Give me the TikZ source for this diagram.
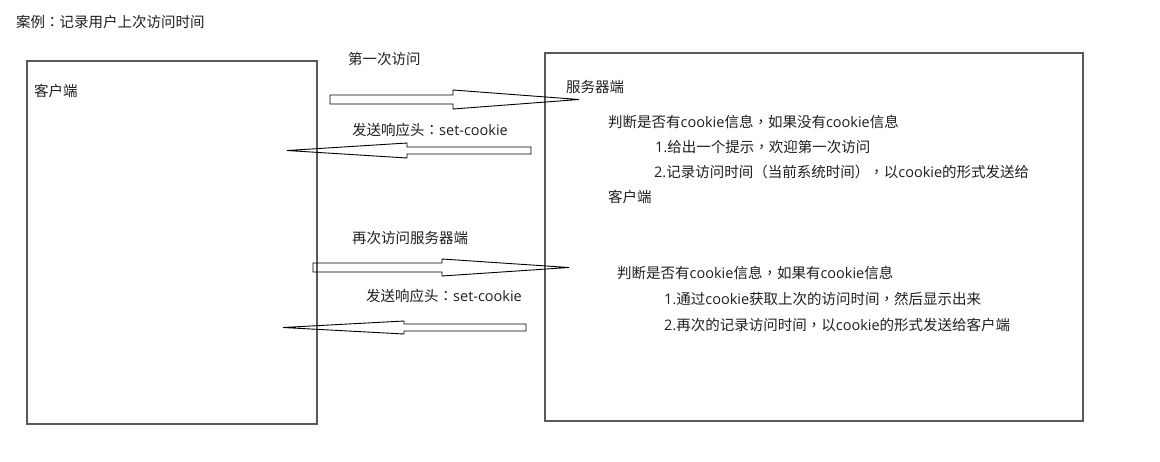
\documentclass[tikz,border=0pt]{standalone}
\usepackage{fontspec}
\setmainfont{Noto Sans CJK SC}
\newfontfamily\latf{Open Sans}
\newfontfamily\punf{Noto Sans CJK TC}
\newcommand\lt[1]{{\latf #1}}
\newcommand\pn[1]{{\punf #1}}
% block arrow: tail x, shoulder x, tip x, centre y, half body, half head
\newcommand\fatarrow[6]{%
  \draw[arrowline] (#1,#4-#5) -- (#2,#4-#5) -- (#2,#4-#6) -- (#3,#4)
    -- (#2,#4+#6) -- (#2,#4+#5) -- (#1,#4+#5) -- cycle;}
\begin{document}
\begin{tikzpicture}[x=1pt,y=-1pt,
  txt/.style={anchor=base west,inner sep=0pt,text=black!88,
    font=\fontsize{14.5}{17}\selectfont},
  panel/.style={draw=black!65,line width=1.2pt},
  arrowline/.style={draw=black,line width=0.9pt,line join=miter}]
\useasboundingbox (0,0) rectangle (1160,461);
\fill[white] (0,0) rectangle (1160,461);

% title
\node[txt] (title) at (16,27) {案例\pn{：}记录用户上次访问时间};

% client and server panels
\draw[panel] (27,61) rectangle (317,424);
\draw[panel] (545,53) rectangle (1083,421);
\node[txt] (client) at (34,96) {客户端};
\node[txt] (server) at (566,92) {服务器端};

% first request and response
\node[txt] (req1) at (348,64) {第一次访问};
\fatarrow{330}{453}{579}{99.5}{4.5}{9.5}
\node[txt] (resp1) at (352,135) {发送响应头\pn{：}\lt{set-cookie}};
\fatarrow{531}{407}{287}{150.5}{3.5}{7.5}

% second request and response
\node[txt] (req2) at (352,243) {再次访问服务器端};
\fatarrow{313}{442}{569}{267.5}{4.5}{8.5}
\node[txt] (resp2) at (366,301) {发送响应头\pn{：}\lt{set-cookie}};
\fatarrow{526}{404}{283}{327.5}{3.5}{6.5}

% server logic, first visit
\node[txt] (s1) at (608,127) {判断是否有\lt{cookie}信息\pn{，}如果没有\lt{cookie}信息};
\node[txt] (s1a) at (655,152) {\lt{1.}给出一个提示\pn{，}欢迎第一次访问};
\node[txt] (s1b) at (654,177) {\lt{2.}记录访问时间\pn{（}当前系统时间\pn{）}\pn{，}以\lt{cookie}的形式发送给};
\node[txt] (s1c) at (608,202) {客户端};

% server logic, repeat visit
\node[txt] (s2) at (617,278) {判断是否有\lt{cookie}信息\pn{，}如果有\lt{cookie}信息};
\node[txt] (s2a) at (664,304) {\lt{1.}通过\lt{cookie}获取上次的访问时间\pn{，}然后显示出来};
\node[txt] (s2b) at (664,330) {\lt{2.}再次的记录访问时间\pn{，}以\lt{cookie}的形式发送给客户端};
\end{tikzpicture}
\end{document}
